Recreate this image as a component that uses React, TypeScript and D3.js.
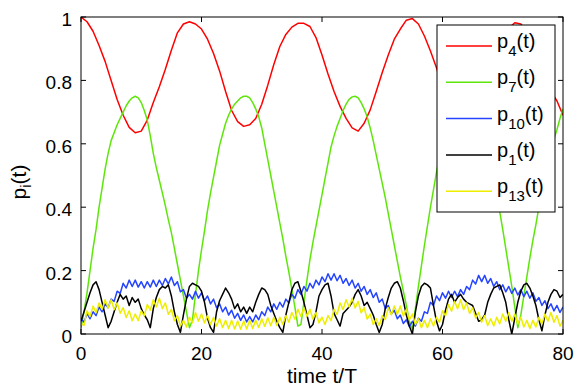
import * as d3 from "d3";

// sample grids (time t/T)
const tRed = d3.range(0, 81, 1);
const tFine = d3.range(0, 80.5, 0.5);

const p4 = [
  1.0, 0.985, 0.955, 0.91, 0.86, 0.8, 0.74, 0.69, 0.652, 0.635, 0.64, 0.675, 0.73, 0.78, 0.835, 0.895, 0.95,
  0.978, 0.985, 0.978, 0.962, 0.93, 0.885, 0.83, 0.765, 0.705, 0.67, 0.655, 0.66, 0.68, 0.725, 0.785, 0.85,
  0.907, 0.945, 0.968, 0.98, 0.98, 0.97, 0.935, 0.88, 0.82, 0.765, 0.718, 0.68, 0.65, 0.64, 0.665, 0.707,
  0.765, 0.825, 0.88, 0.93, 0.962, 0.99, 0.995, 0.978, 0.94, 0.893, 0.84, 0.78, 0.725, 0.68, 0.65, 0.645,
  0.66, 0.7, 0.755, 0.815, 0.875, 0.93, 0.965, 0.982, 0.978, 0.955, 0.915, 0.865, 0.81, 0.765, 0.735, 0.69,
];

const p7 = [
  0.02, 0.07, 0.13, 0.2, 0.27, 0.33, 0.4, 0.46, 0.52, 0.57, 0.61, 0.635, 0.66, 0.68, 0.7, 0.72, 0.735, 0.745,
  0.75, 0.745, 0.73, 0.705, 0.675, 0.625, 0.57, 0.525, 0.485, 0.445, 0.405, 0.36, 0.32, 0.27, 0.22, 0.17, 0.12,
  0.07, 0.02, 0.045, 0.125, 0.2, 0.265, 0.325, 0.39, 0.445, 0.495, 0.545, 0.595, 0.63, 0.665, 0.69, 0.71, 0.725,
  0.735, 0.745, 0.75, 0.75, 0.745, 0.73, 0.71, 0.685, 0.65, 0.6, 0.55, 0.5, 0.45, 0.4, 0.35, 0.3, 0.245, 0.195,
  0.14, 0.085, 0.025, 0.03, 0.1, 0.17, 0.235, 0.29, 0.34, 0.39, 0.44, 0.49, 0.54, 0.59, 0.625, 0.655, 0.68,
  0.705, 0.725, 0.74, 0.748, 0.75, 0.745, 0.73, 0.71, 0.685, 0.65, 0.61, 0.565, 0.52, 0.475, 0.43, 0.38, 0.33,
  0.28, 0.23, 0.18, 0.135, 0.09, 0.04, 0.015, 0.08, 0.15, 0.215, 0.28, 0.34, 0.4, 0.455, 0.51, 0.56, 0.605, 0.64,
  0.67, 0.695, 0.715, 0.73, 0.742, 0.75, 0.748, 0.74, 0.725, 0.705, 0.68, 0.65, 0.615, 0.575, 0.53, 0.48, 0.43,
  0.385, 0.33, 0.27, 0.21, 0.15, 0.085, 0.02, 0.06, 0.12, 0.18, 0.24, 0.295, 0.345, 0.4, 0.45, 0.5, 0.545, 0.585,
  0.615, 0.645, 0.68, 0.71,
];

const p10 = [
  0.05, 0.037, 0.065, 0.048, 0.07, 0.058, 0.085, 0.07, 0.095, 0.083, 0.11, 0.103, 0.135, 0.128, 0.16, 0.145,
  0.17, 0.15, 0.17, 0.148, 0.165, 0.145, 0.165, 0.148, 0.17, 0.15, 0.17, 0.153, 0.175, 0.158, 0.18, 0.153, 0.165,
  0.133, 0.14, 0.113, 0.125, 0.11, 0.135, 0.113, 0.13, 0.105, 0.12, 0.095, 0.11, 0.083, 0.095, 0.07, 0.085, 0.06,
  0.075, 0.05, 0.065, 0.043, 0.06, 0.038, 0.055, 0.038, 0.06, 0.045, 0.07, 0.058, 0.085, 0.07, 0.095, 0.078, 0.1,
  0.085, 0.11, 0.098, 0.125, 0.113, 0.14, 0.125, 0.15, 0.135, 0.16, 0.145, 0.17, 0.155, 0.18, 0.165, 0.19, 0.17,
  0.19, 0.168, 0.185, 0.16, 0.175, 0.153, 0.17, 0.145, 0.16, 0.135, 0.15, 0.125, 0.14, 0.115, 0.13, 0.1, 0.11,
  0.08, 0.09, 0.063, 0.075, 0.048, 0.06, 0.033, 0.045, 0.023, 0.04, 0.025, 0.05, 0.04, 0.07, 0.065, 0.1, 0.09,
  0.12, 0.105, 0.13, 0.113, 0.135, 0.115, 0.135, 0.118, 0.14, 0.125, 0.15, 0.14, 0.17, 0.158, 0.185, 0.165, 0.185,
  0.16, 0.175, 0.15, 0.165, 0.14, 0.155, 0.133, 0.15, 0.128, 0.145, 0.123, 0.14, 0.118, 0.135, 0.113, 0.13, 0.103,
  0.115, 0.09, 0.105, 0.08, 0.095, 0.073, 0.09, 0.068, 0.085,
];

const p1 = [
  0.04, 0.07, 0.1, 0.13, 0.155, 0.165, 0.14, 0.1, 0.06, 0.02, 0.04, 0.07, 0.1, 0.125, 0.11, 0.12, 0.09, 0.115,
  0.1, 0.11, 0.08, 0.06, 0.045, 0.02, 0.08, 0.115, 0.14, 0.15, 0.145, 0.155, 0.12, 0.07, 0.03, 0.005, 0.06, 0.11,
  0.15, 0.16, 0.155, 0.15, 0.135, 0.1, 0.05, 0.02, 0.005, 0.07, 0.105, 0.125, 0.145, 0.13, 0.11, 0.08, 0.095, 0.07,
  0.085, 0.065, 0.085, 0.07, 0.1, 0.125, 0.145, 0.14, 0.125, 0.09, 0.065, 0.04, 0.02, 0.005, 0.06, 0.1, 0.14, 0.16,
  0.165, 0.135, 0.1, 0.06, 0.02, 0.03, 0.07, 0.12, 0.14, 0.155, 0.16, 0.12, 0.065, 0.045, 0.025, 0.065, 0.075,
  0.085, 0.1, 0.125, 0.14, 0.12, 0.09, 0.1, 0.08, 0.06, 0.03, 0.005, 0.03, 0.08, 0.115, 0.145, 0.16, 0.165, 0.145,
  0.105, 0.06, 0.025, 0.0, 0.07, 0.12, 0.15, 0.16, 0.155, 0.145, 0.09, 0.04, 0.01, 0.03, 0.075, 0.11, 0.125, 0.1,
  0.115, 0.125, 0.11, 0.1, 0.095, 0.09, 0.065, 0.04, 0.045, 0.06, 0.1, 0.125, 0.145, 0.15, 0.155, 0.13, 0.1, 0.045,
  0.0, 0.05, 0.1, 0.135, 0.155, 0.16, 0.145, 0.12, 0.09, 0.045, 0.01, 0.06, 0.1, 0.125, 0.14, 0.135, 0.115, 0.125,
];

const p13 = [
  0.033, 0.027, 0.073, 0.055, 0.088, 0.067, 0.098, 0.077, 0.108, 0.082, 0.108, 0.077, 0.098, 0.065, 0.083, 0.052,
  0.073, 0.042, 0.063, 0.042, 0.073, 0.057, 0.093, 0.075, 0.108, 0.085, 0.113, 0.08, 0.098, 0.062, 0.078, 0.042,
  0.058, 0.025, 0.043, 0.022, 0.053, 0.035, 0.068, 0.04, 0.063, 0.035, 0.058, 0.03, 0.053, 0.025, 0.048, 0.02,
  0.043, 0.017, 0.043, 0.016, 0.041, 0.015, 0.041, 0.016, 0.043, 0.017, 0.043, 0.02, 0.048, 0.024, 0.051, 0.026,
  0.053, 0.027, 0.053, 0.03, 0.058, 0.037, 0.068, 0.047, 0.078, 0.055, 0.083, 0.055, 0.078, 0.047, 0.068, 0.035,
  0.053, 0.03, 0.058, 0.042, 0.078, 0.062, 0.098, 0.077, 0.108, 0.085, 0.113, 0.082, 0.103, 0.067, 0.083, 0.047,
  0.063, 0.03, 0.048, 0.027, 0.058, 0.045, 0.083, 0.06, 0.088, 0.062, 0.088, 0.057, 0.078, 0.045, 0.063, 0.03,
  0.048, 0.02, 0.043, 0.02, 0.048, 0.025, 0.053, 0.037, 0.073, 0.057, 0.093, 0.072, 0.103, 0.08, 0.108, 0.077,
  0.098, 0.065, 0.083, 0.05, 0.068, 0.037, 0.058, 0.027, 0.048, 0.025, 0.053, 0.032, 0.063, 0.04, 0.068, 0.04,
  0.063, 0.032, 0.053, 0.022, 0.043, 0.017, 0.043, 0.022, 0.053, 0.032, 0.063, 0.04, 0.068, 0.037, 0.058, 0.025,
  0.043,
];

const series = [
  { sub: "4", t: tRed, v: p4, color: "#ff0000" },
  { sub: "7", t: tFine, v: p7, color: "#5ee60a" },
  { sub: "10", t: tFine, v: p10, color: "#2444ff" },
  { sub: "1", t: tFine, v: p1, color: "#000000" },
  { sub: "13", t: tFine, v: p13, color: "#eeee00" },
];

const xTicks = [0, 20, 40, 60, 80];
const yTicks = [0, 0.2, 0.4, 0.6, 0.8, 1];

export default function App() {
  const W = 581,
    H = 389;
  const m = { left: 81, right: 563, top: 17, bottom: 334 };
  const x = d3.scaleLinear().domain([0, 80]).range([m.left, m.right]);
  const y = d3.scaleLinear().domain([0, 1]).range([m.bottom, m.top]);
  const font = "'Liberation Sans', Arial, Helvetica, sans-serif";
  const tick = 5;

  const lg = { x: 437, y: 25, w: 118, h: 187, row0: 46, step: 36.3 };

  return (
    <svg width={W} height={H} style={{ position: "absolute", left: 0, top: 0, background: "#fff" }} fontFamily={font}>
      <rect width={W} height={H} fill="#fff" />
      <defs>
        <clipPath id="plot">
          <rect x={m.left} y={m.top} width={m.right - m.left} height={m.bottom - m.top} />
        </clipPath>
      </defs>

      <g clipPath="url(#plot)" fill="none" strokeWidth={1.5} strokeLinejoin="round">
        {series.map((s) => {
          const line = d3
            .line<number>()
            .x((_, i) => x(s.t[i]))
            .y((d) => y(d));
          return <path key={s.sub} d={line(s.v) || ""} stroke={s.color} />;
        })}
      </g>

      {/* axes box and ticks */}
      <rect x={m.left} y={m.top} width={m.right - m.left} height={m.bottom - m.top} fill="none" stroke="#000" strokeWidth={1} />
      {xTicks.map((d) => (
        <g key={"x" + d}>
          <line x1={x(d)} x2={x(d)} y1={m.bottom} y2={m.bottom - tick} stroke="#000" />
          <line x1={x(d)} x2={x(d)} y1={m.top} y2={m.top + tick} stroke="#000" />
          <text x={x(d)} y={360} textAnchor="middle" fontSize={19}>
            {d}
          </text>
        </g>
      ))}
      {yTicks.map((d) => (
        <g key={"y" + d}>
          <line x1={m.left} x2={m.left + tick} y1={y(d)} y2={y(d)} stroke="#000" />
          <line x1={m.right} x2={m.right - tick} y1={y(d)} y2={y(d)} stroke="#000" />
          <text x={72} y={y(d) + 9} textAnchor="end" fontSize={19}>
            {d3.format("~g")(d)}
          </text>
        </g>
      ))}

      <text x={322} y={383} textAnchor="middle" fontSize={21}>
        time t/T
      </text>
      <text transform="translate(26,182) rotate(-90)" textAnchor="middle" fontSize={21}>
        p<tspan fontSize={15} dy={5}>i</tspan>
        <tspan dy={-5}>(t)</tspan>
      </text>

      {/* legend */}
      <rect x={lg.x} y={lg.y} width={lg.w} height={lg.h} fill="#fff" stroke="#000" strokeWidth={1} />
      {series.map((s, i) => {
        const ry = lg.row0 + i * lg.step;
        return (
          <g key={"lg" + s.sub}>
            <line x1={446} x2={492} y1={ry} y2={ry} stroke={s.color} strokeWidth={1.5} />
            <text x={497} y={ry + 2} fontSize={20}>
              p<tspan fontSize={15} dy={8}>{s.sub}</tspan>
              <tspan dy={-8}>(t)</tspan>
            </text>
          </g>
        );
      })}
    </svg>
  );
}
